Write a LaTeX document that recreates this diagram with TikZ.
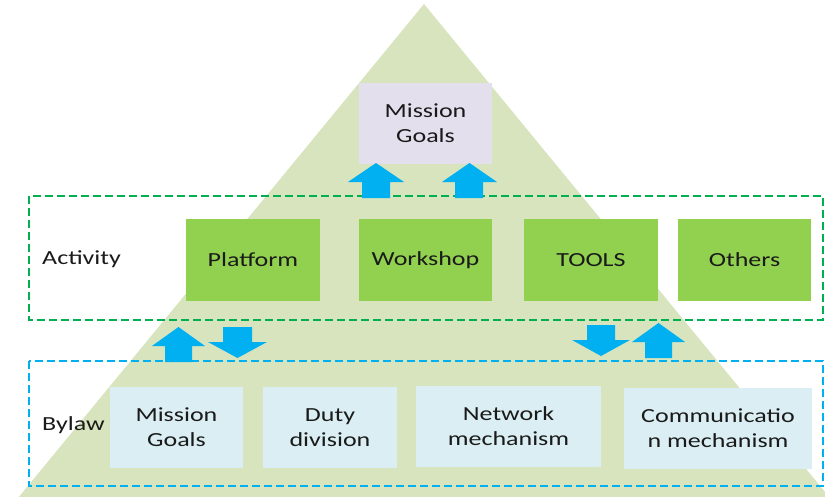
\documentclass[tikz,border=0pt]{standalone}
\usepackage{fontspec}
\setmainfont{Carlito}[FakeStretch=1.3]
\definecolor{tri}{HTML}{D7E4BD}
\definecolor{lav}{HTML}{E4DFEC}
\definecolor{grn}{HTML}{92D050}
\definecolor{lblue}{HTML}{DAEEF3}
\definecolor{arr}{HTML}{00B0F0}
\definecolor{dgreen}{HTML}{00B050}
\definecolor{txt}{HTML}{1A1A1A}
\tikzset{
  box/.style={draw=none, minimum height=81pt, inner sep=0pt, align=center, text=txt, font=\fontsize{20}{25}\selectfont},
  lavbox/.style={box, fill=lav},
  grnbox/.style={box, fill=grn},
  bluebox/.style={box, fill=lblue},
  grp/.style={line width=2pt, dash pattern=on 8pt off 4pt},
  lbl/.style={anchor=west, inner sep=0pt, text=txt, font=\fontsize{20}{25}\selectfont},
  blockarrow/.style={fill=arr, draw=none}
}
\begin{document}
\begin{tikzpicture}[x=1pt,y=-1pt]
\useasboundingbox (0,0) rectangle (825,496);
\begin{scope}
\clip (0,0) rectangle (825,496);
\fill[tri] (424,4) -- (18,498) -- (830,498) -- cycle;
\end{scope}
% group frames
\draw[grp, draw=dgreen] (29,196) rectangle (823,320);
\draw[grp, draw=arr] (29,361) rectangle (823,486);
% labels
\node[lbl] (act) at (42,259.5) {Activity};
\node[lbl] (byl) at (42,425.5) {Bylaw};
% top box
\node[lavbox, minimum width=133pt] (goal) at (425.5,123.5) {Mission\\Goals};
% activity boxes
\node[grnbox, minimum width=134pt, minimum height=82pt] (plat) at (253,260) {Platform};
\node[grnbox, minimum width=133pt, minimum height=82pt] (work) at (425.5,260) {Workshop};
\node[grnbox, minimum width=134pt, minimum height=82pt] (tools) at (591,260) {TOOLS};
\node[grnbox, minimum width=133pt, minimum height=82pt] (oth) at (744.5,260) {Others};
% bylaw boxes
\node[bluebox, minimum width=133pt] (mg) at (176.5,427.5) {Mission\\Goals};
\node[bluebox, minimum width=134pt] (duty) at (330,427.5) {Duty\\division};
\node[bluebox, minimum width=185pt] (net) at (508.5,426) {Network\\mechanism};
\node[bluebox, minimum width=188pt] (comm) at (718,428) {Communicatio\\n mechanism};
% block arrows
\fill[blockarrow] (376,163) -- (404,182) -- (390,182) -- (390,198) -- (362,198) -- (362,182) -- (348,182) -- cycle;
\fill[blockarrow] (469.5,163) -- (497,182) -- (483,182) -- (483,198) -- (455,198) -- (455,182) -- (442,182) -- cycle;
\fill[blockarrow] (178.5,327) -- (205,346) -- (192,346) -- (192,362) -- (165,362) -- (165,346) -- (152,346) -- cycle;
\fill[blockarrow] (237.5,358) -- (267,342) -- (252,342) -- (252,327) -- (223,327) -- (223,342) -- (208,342) -- cycle;
\fill[blockarrow] (601,356) -- (630,340) -- (615,340) -- (615,325) -- (587,325) -- (587,340) -- (572,340) -- cycle;
\fill[blockarrow] (658.5,323) -- (685,342) -- (672,342) -- (672,358) -- (645,358) -- (645,342) -- (632,342) -- cycle;
\end{tikzpicture}
\end{document}
